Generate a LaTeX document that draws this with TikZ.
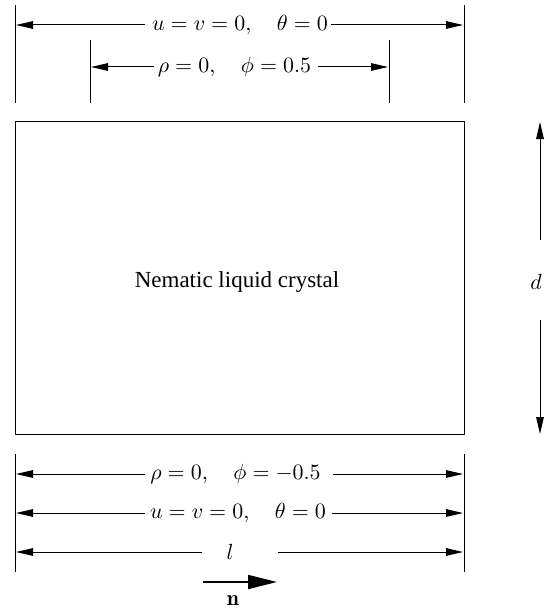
\documentclass[tikz,border=0pt]{standalone}
\usepackage{fontspec}
\newfontfamily\timesf{Liberation Serif}
\usetikzlibrary{arrows.meta}
\begin{document}
\begin{tikzpicture}[x=0.5pt,y=-0.5pt,
  dim/.style={line width=0.5pt,-{Triangle[length=8.5pt,width=3.8pt]}},
  tickline/.style={line width=0.45pt},
  lab/.style={inner sep=0pt,font=\fontsize{10.95}{13}\selectfont}]
\useasboundingbox (0,0) rectangle (552,610);
% ticks
\coordinate (tl1) at (15,5);   \coordinate (tl2) at (15,103);
\coordinate (tr1) at (464,5);  \coordinate (tr2) at (464,103);
\coordinate (sl1) at (90,40);  \coordinate (sl2) at (90,103);
\coordinate (sr1) at (389,40); \coordinate (sr2) at (389,103);
\coordinate (bl1) at (15,454); \coordinate (bl2) at (15,572);
\coordinate (br1) at (464,454);\coordinate (br2) at (464,572);
\draw[tickline] (tl1) -- (tl2);
\draw[tickline] (tr1) -- (tr2);
\draw[tickline] (sl1) -- (sl2);
\draw[tickline] (sr1) -- (sr2);
\draw[tickline] (bl1) -- (bl2);
\draw[tickline] (br1) -- (br2);
% top row
\node[lab] (t1) at (240,25) {$u=v=0,\quad \theta=0$};
\coordinate (t1a) at (145,25); \coordinate (t1b) at (331,25);
\coordinate (t1L) at (16,25);  \coordinate (t1R) at (463,25);
\draw[dim] (t1a) -- (t1L);
\draw[dim] (t1b) -- (t1R);
% second row
\node[lab] (t2) at (234.5,67) {$\rho=0,\quad \phi=0.5$};
\coordinate (t2a) at (154,67); \coordinate (t2b) at (318,67);
\coordinate (t2L) at (91,67);  \coordinate (t2R) at (388,67);
\draw[dim] (t2a) -- (t2L);
\draw[dim] (t2b) -- (t2R);
% cell
\coordinate (c1) at (15,122); \coordinate (c2) at (464,434);
\draw[line width=0.5pt] (c1) rectangle (c2);
\node[inner sep=0pt] (nlc) at (237,282) {\timesf\fontsize{11.5}{14}\selectfont Nematic liquid crystal};
% d
\node[lab] (d) at (536,282) {$d$};
\coordinate (du) at (540,240); \coordinate (dut) at (540,122);
\coordinate (dd) at (540,320); \coordinate (ddt) at (540,434);
\draw[dim] (du) -- (dut);
\draw[dim] (dd) -- (ddt);
% bottom rows
\node[lab] (b1) at (235.5,474) {$\rho=0,\quad \phi=-0.5$};
\coordinate (b1a) at (145,474); \coordinate (b1b) at (333,474);
\coordinate (b1L) at (16,474);  \coordinate (b1R) at (463,474);
\draw[dim] (b1a) -- (b1L);
\draw[dim] (b1b) -- (b1R);
\node[lab] (b2) at (238,513) {$u=v=0,\quad \theta=0$};
\coordinate (b2a) at (145,513); \coordinate (b2b) at (332,513);
\coordinate (b2L) at (16,513);  \coordinate (b2R) at (463,513);
\draw[dim] (b2a) -- (b2L);
\draw[dim] (b2b) -- (b2R);
\node[lab] (b3) at (230,552) {$l$};
\coordinate (b3a) at (202,552); \coordinate (b3b) at (278,552);
\coordinate (b3L) at (16,552);  \coordinate (b3R) at (463,552);
\draw[dim] (b3a) -- (b3L);
\draw[dim] (b3b) -- (b3R);
% n
\coordinate (na) at (203,582); \coordinate (nb) at (277,582);
\draw[line width=0.9pt,-{Triangle[length=14.5pt,width=7pt]}] (na) -- (nb);
\node[lab] (n) at (233,601) {$\mathbf{n}$};
\end{tikzpicture}
\end{document}
